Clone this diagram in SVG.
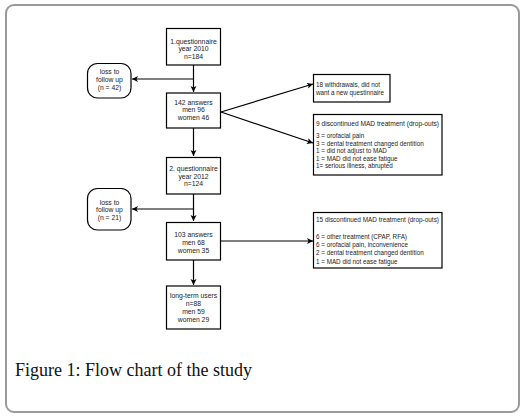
<svg xmlns="http://www.w3.org/2000/svg" width="526" height="418" viewBox="0 0 526 418">
<defs>
<style>
.box{fill:#fff;stroke:#000;stroke-width:1.2}
.t{font-family:"Liberation Sans",Arial,sans-serif;font-size:6.8px;fill:#222}
.r{font-size:6.3px}
.c{text-anchor:middle}
.ln{fill:none;stroke:#000;stroke-width:1.2}
.cap{font-family:"Liberation Serif","Times New Roman",serif;font-size:18px;fill:#111}
</style>
<marker id="ah" markerWidth="8" markerHeight="8" refX="6" refY="3" orient="auto" markerUnits="userSpaceOnUse">
<path d="M0,0 L6,3 L0,6 L1.5,3 Z" fill="#000"/>
</marker>
</defs>
<rect x="6" y="5" width="513" height="407" rx="8" fill="#fff" stroke="#9a9a9a" stroke-width="2"/>

<g id="connectors">
<line class="ln" x1="193.5" y1="65" x2="193.5" y2="92" marker-end="url(#ah)"/>
<line class="ln" x1="193.5" y1="79" x2="132" y2="79" marker-end="url(#ah)"/>
<line class="ln" x1="221" y1="112" x2="313" y2="84" marker-end="url(#ah)"/>
<line class="ln" x1="221" y1="112" x2="313" y2="143" marker-end="url(#ah)"/>
<line class="ln" x1="193.5" y1="128" x2="193.5" y2="156" marker-end="url(#ah)"/>
<line class="ln" x1="193.5" y1="194" x2="193.5" y2="221" marker-end="url(#ah)"/>
<line class="ln" x1="193.5" y1="209" x2="132" y2="209" marker-end="url(#ah)"/>
<line class="ln" x1="221" y1="241" x2="313" y2="241" marker-end="url(#ah)"/>
<line class="ln" x1="193.5" y1="260" x2="193.5" y2="285" marker-end="url(#ah)"/>
</g>

<g id="q1">
<rect class="box" x="166.5" y="28.5" width="54" height="36.5"/>
<text class="t c" x="193.5" y="43.5">1.questionnaire</text>
<text class="t c" x="193.5" y="51">year 2010</text>
<text class="t c" x="193.5" y="59">n=184</text>
</g>

<g id="loss1">
<rect class="box" x="87.5" y="63.5" width="43.5" height="34.5" rx="10"/>
<text class="t c" x="109.5" y="73.5">loss to</text>
<text class="t c" x="109.5" y="81.5">follow up</text>
<text class="t c" x="109.5" y="89.5">(n = 42)</text>
</g>

<g id="a142">
<rect class="box" x="166.5" y="93" width="54" height="35"/>
<text class="t c" x="193.5" y="104.5">142 answers</text>
<text class="t c" x="193.5" y="112">men 96</text>
<text class="t c" x="193.5" y="119.5">women 46</text>
</g>

<g id="w18">
<rect class="box" x="313.5" y="74.5" width="76.5" height="27.5"/>
<text class="t r" x="316" y="86.5">18 withdrawals, did not</text>
<text class="t r" x="316" y="94.5">want a new questinnaire</text>
</g>

<g id="d9">
<rect class="box" x="313.5" y="114.5" width="128.5" height="60.5"/>
<text class="t r" x="316" y="125.5" textLength="123" lengthAdjust="spacingAndGlyphs">9 discontinued MAD treatment (drop-outs)</text>
<text class="t r" x="316" y="137.5">3 = orofacial pain</text>
<text class="t r" x="316" y="145.5">3 = dental treatment changed dentition</text>
<text class="t r" x="316" y="153">1 = did not adjust to MAD</text>
<text class="t r" x="316" y="160.5">1 = MAD did not ease fatigue</text>
<text class="t r" x="316" y="168">1= serious illness, abrupted</text>
</g>

<g id="q2">
<rect class="box" x="166.5" y="157.5" width="54" height="36.5"/>
<text class="t c" x="193.5" y="170.5">2. questionnaire</text>
<text class="t c" x="193.5" y="178.5">year 2012</text>
<text class="t c" x="193.5" y="186">n=124</text>
</g>

<g id="loss2">
<rect class="box" x="87.5" y="188.5" width="43.5" height="41.5" rx="10"/>
<text class="t c" x="109.5" y="204.5">loss to</text>
<text class="t c" x="109.5" y="212">follow up</text>
<text class="t c" x="109.5" y="219.5">(n = 21)</text>
</g>

<g id="a103">
<rect class="box" x="166.5" y="222.5" width="54" height="37.5"/>
<text class="t c" x="193.5" y="236.5">103 answers</text>
<text class="t c" x="193.5" y="244.5">men 68</text>
<text class="t c" x="193.5" y="252.5">women 35</text>
</g>

<g id="d15">
<rect class="box" x="313.5" y="212.5" width="128.5" height="55.5"/>
<text class="t r" x="316" y="221.5" textLength="123" lengthAdjust="spacingAndGlyphs">15 discontinued MAD treatment (drop-outs)</text>
<text class="t r" x="316" y="238.5">6 = other treatment (CPAP, RFA)</text>
<text class="t r" x="316" y="246.5">6 = orofacial pain, inconvenience</text>
<text class="t r" x="316" y="255">2 = dental treatment changed dentition</text>
<text class="t r" x="316" y="264">1 = MAD did not ease fatigue</text>
</g>

<g id="lt">
<rect class="box" x="166.5" y="286" width="54" height="43"/>
<text class="t c" x="193.5" y="297.5">long-term users</text>
<text class="t c" x="193.5" y="305.5">n=88</text>
<text class="t c" x="193.5" y="313.5">men 59</text>
<text class="t c" x="193.5" y="322">women 29</text>
</g>

<text class="cap" x="15" y="376">Figure 1: Flow chart of the study</text>
</svg>
